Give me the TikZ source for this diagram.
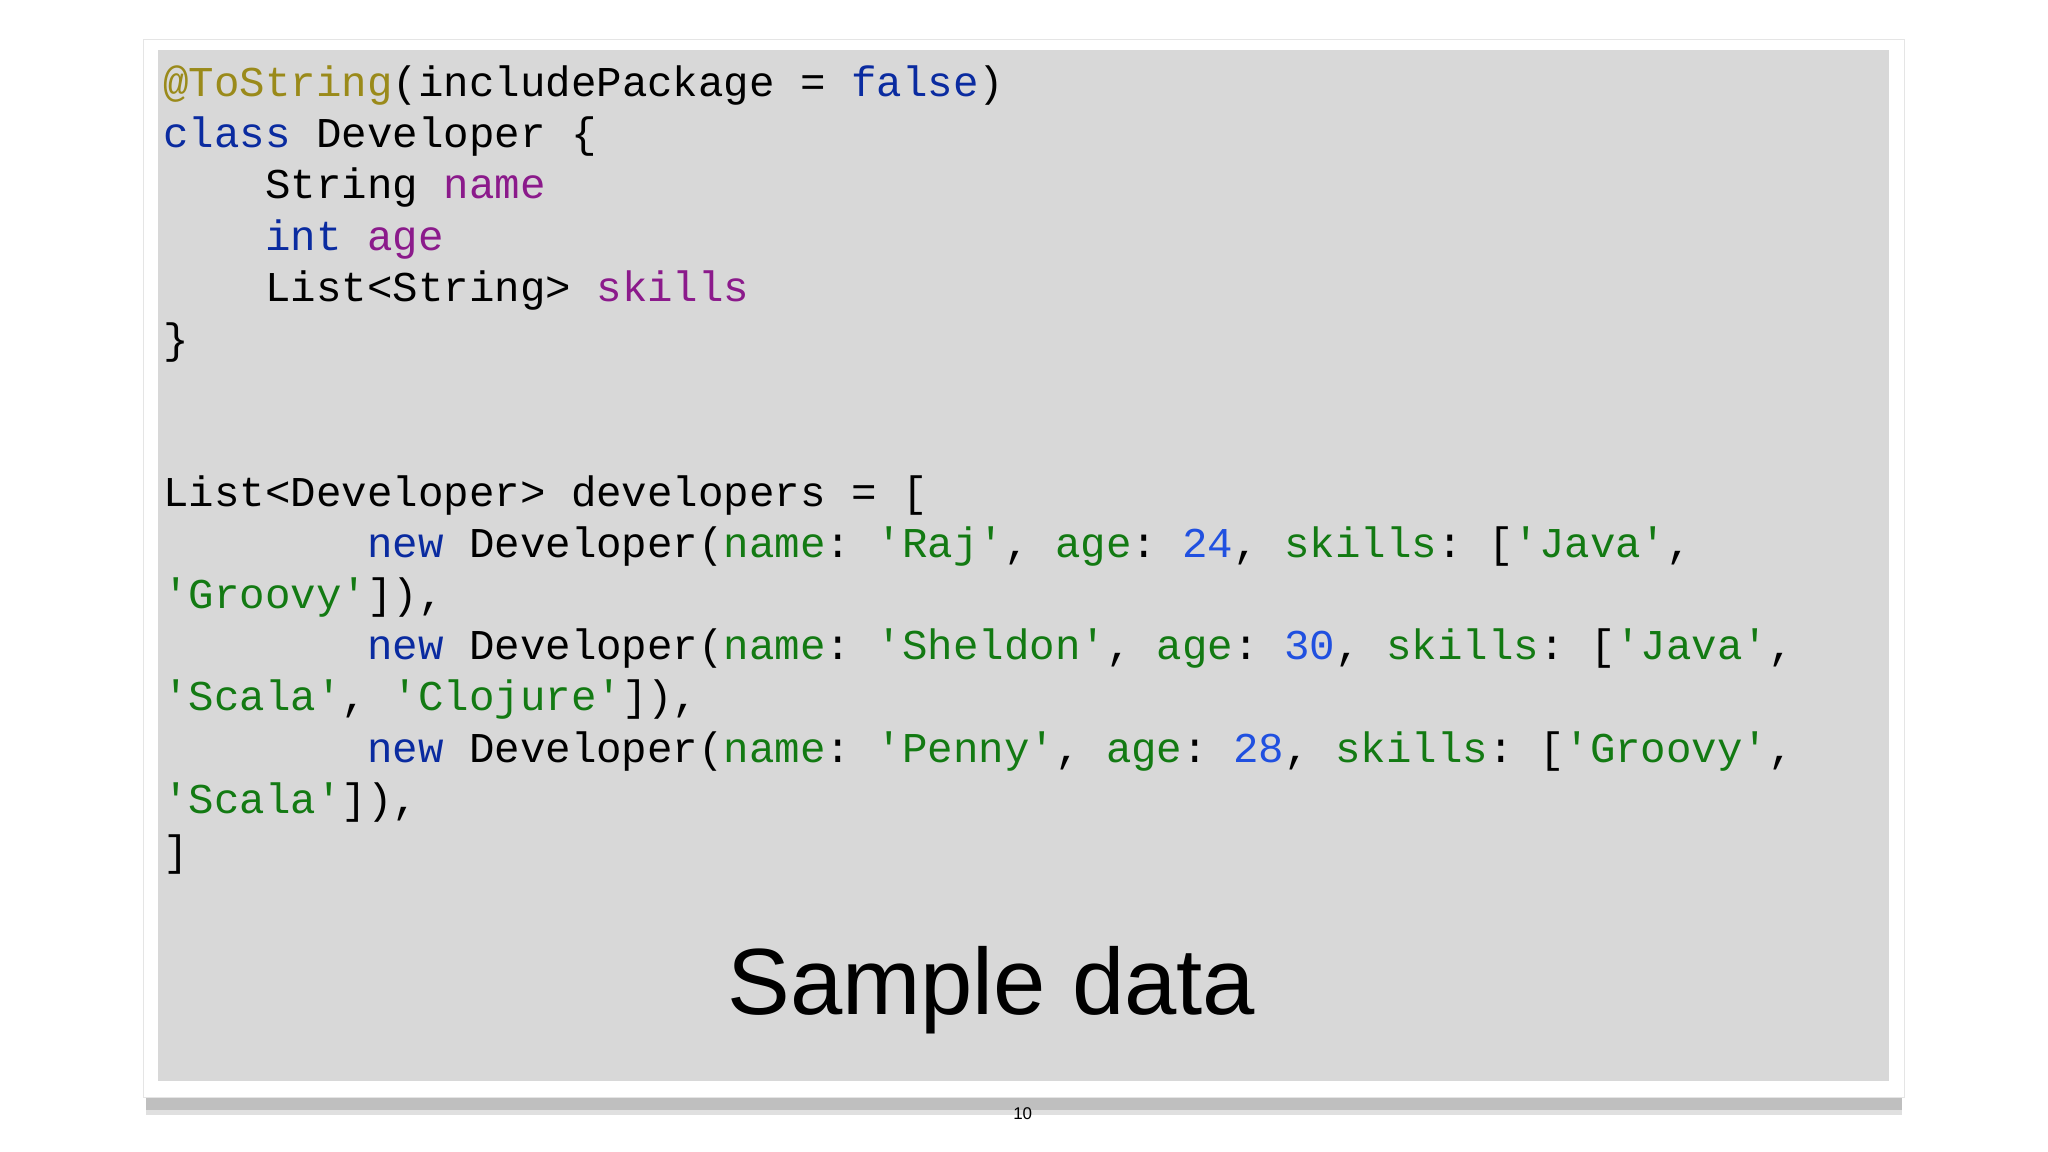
\documentclass[tikz,border=0pt]{standalone}
\usepackage{fontspec}
\setmainfont{Liberation Sans}
\setmonofont{Liberation Mono}
\definecolor{ann}{HTML}{9A8A1A}
\definecolor{kw}{HTML}{0A2BA0}
\definecolor{num}{HTML}{2050E0}
\definecolor{fld}{HTML}{8B1A8B}
\definecolor{str}{HTML}{137A13}
\definecolor{panel}{HTML}{D8D8D8}
\newcommand\cKw[1]{\textcolor{kw}{#1}}
\newcommand\cAn[1]{\textcolor{ann}{#1}}
\newcommand\cNu[1]{\textcolor{num}{#1}}
\newcommand\cFl[1]{\textcolor{fld}{#1}}
\newcommand\cSt[1]{\textcolor{str}{#1}}
\begin{document}
\begin{tikzpicture}[x=1pt,y=-1pt,
  code/.style={anchor=base west,inner sep=0pt,font=\fontsize{32.5}{39}\selectfont\ttfamily}]
\useasboundingbox (0,0) rectangle (1568,882);
\fill[white] (0,0) rectangle (1568,882);
\fill[black!25] (112,838) rectangle (1456,850);
\fill[black!12] (112,850) rectangle (1456,854);
\fill[white,draw=black!10] (110,30) rectangle (1458,840);
\fill[panel] (121,38) rectangle (1446,828);
\node[code] (l1) at (125,74) {\cAn{@ToString}(includePackage = \cKw{false})};
\node[code] (l2) at (125,113) {\cKw{class} Developer \{};
\node[code] (l3) at (203,152) {String \cFl{name}};
\node[code] (l4) at (203,192) {\cKw{int} \cFl{age}};
\node[code] (l5) at (203,231) {List<String> \cFl{skills}};
\node[code] (l6) at (125,271) {\}};
\node[code] (l7) at (125,388) {List<Developer> developers = [};
\node[code] (l8) at (281,427) {\cKw{new} Developer(\cSt{name}: \cSt{'Raj'}, \cSt{age}: \cNu{24}, \cSt{skills}: [\cSt{'Java'},};
\node[code] (l9) at (125,466) {\cSt{'Groovy'}]),};
\node[code] (l10) at (281,505) {\cKw{new} Developer(\cSt{name}: \cSt{'Sheldon'}, \cSt{age}: \cNu{30}, \cSt{skills}: [\cSt{'Java'},};
\node[code] (l11) at (125,544) {\cSt{'Scala'}, \cSt{'Clojure'}]),};
\node[code] (l12) at (281,584) {\cKw{new} Developer(\cSt{name}: \cSt{'Penny'}, \cSt{age}: \cNu{28}, \cSt{skills}: [\cSt{'Groovy'},};
\node[code] (l13) at (125,623) {\cSt{'Scala'}]),};
\node[code] (l14) at (125,663) {]};
\node[font=\fontsize{72}{80}\selectfont] (title) at (759,758) {Sample data};
\node[font=\fontsize{13}{15}\selectfont] (pg) at (783,853) {10};
\end{tikzpicture}
\end{document}
